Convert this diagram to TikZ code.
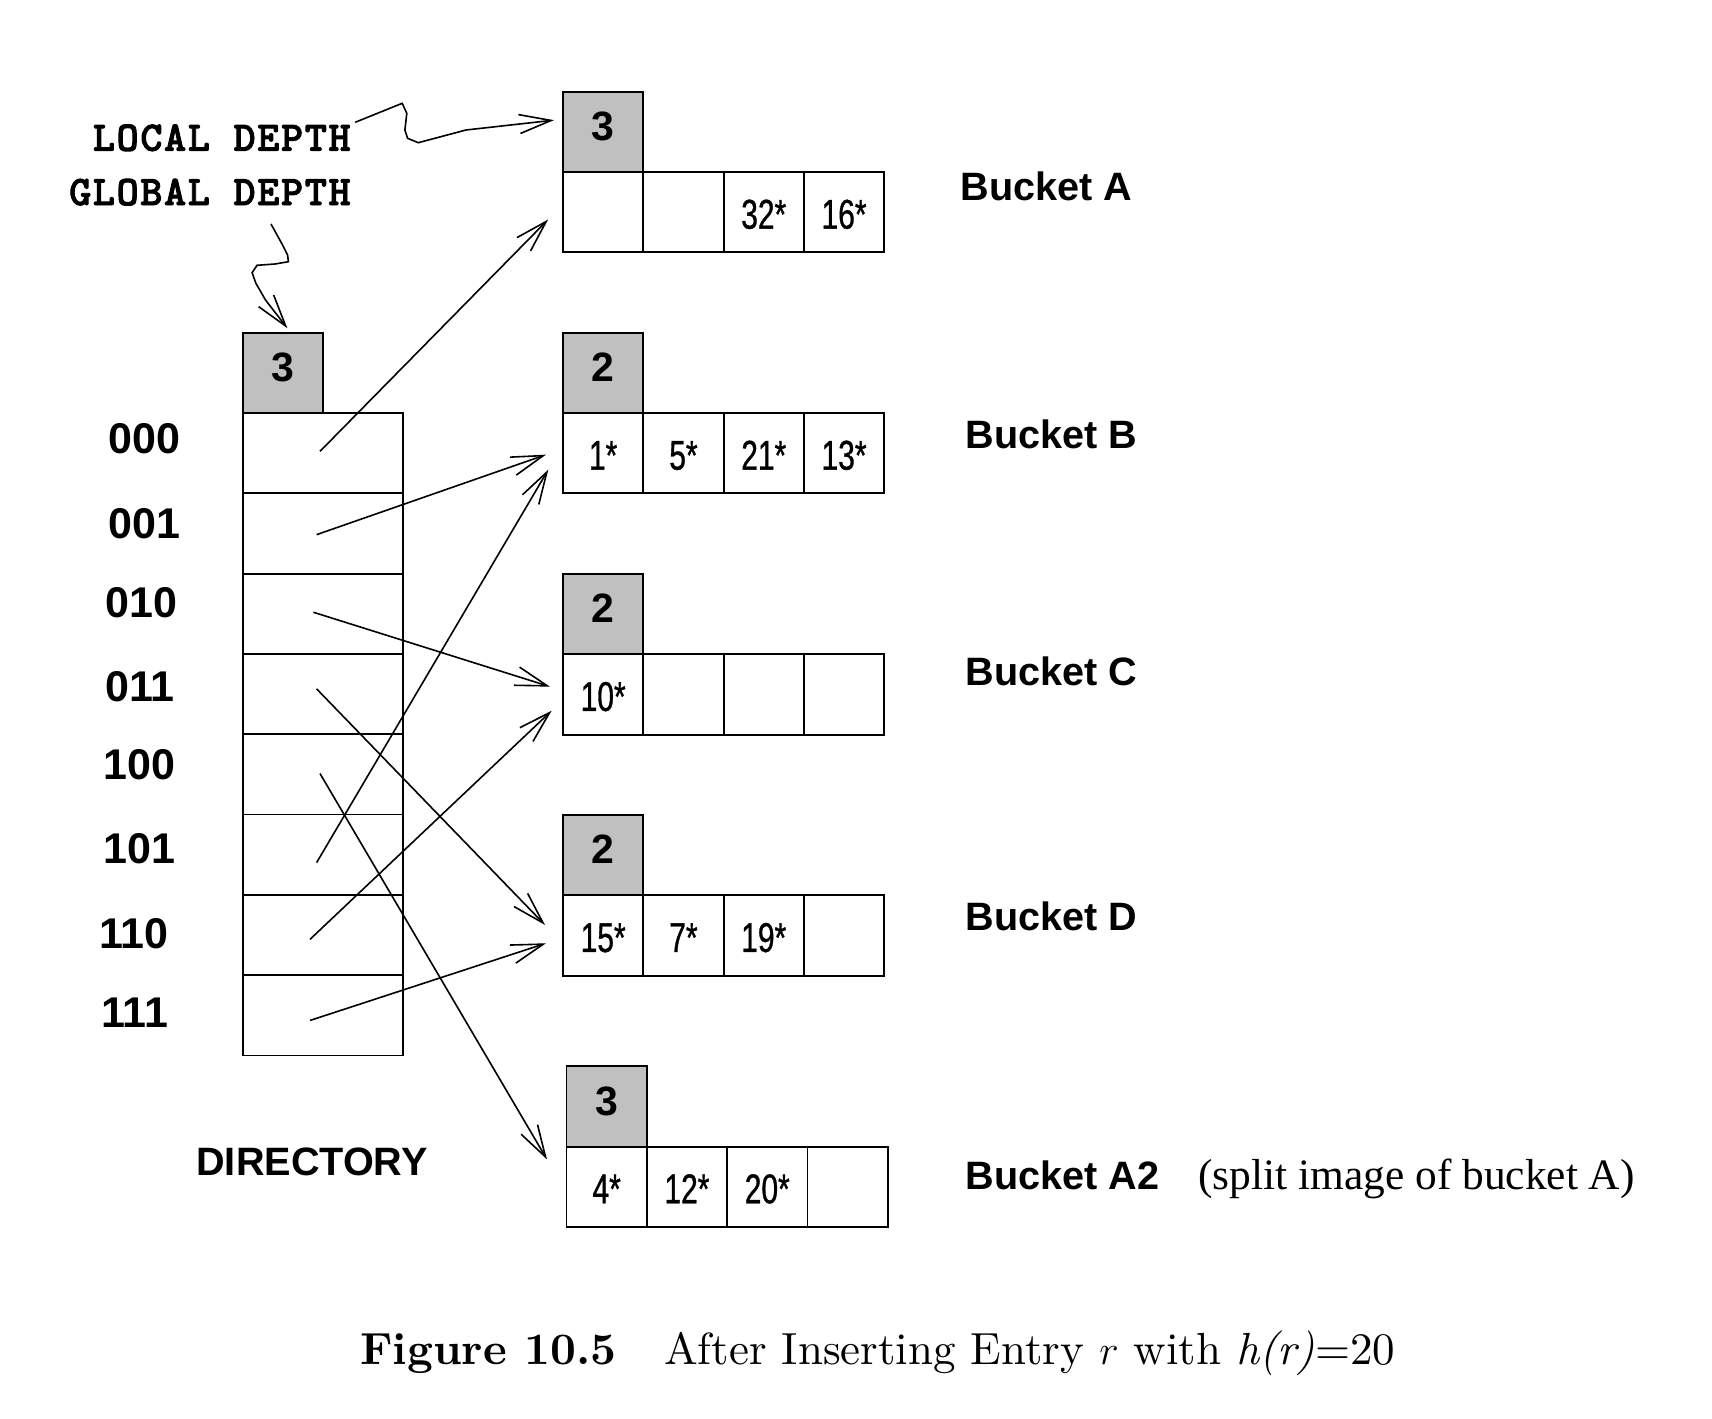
\documentclass[tikz,border=0pt]{standalone}
\usepackage{fontspec}
\usetikzlibrary{arrows.meta}
\newfontfamily\hvfont{Liberation Sans}
\newfontfamily\hvnfont[FakeStretch=0.72, FakeBold=0.8]{Liberation Sans}
\newfontfamily\tmfont{Liberation Serif}
\newfontfamily\crfont{lmmonolt10-bold.otf}[LetterSpace=4.0, FakeBold=2.2]
\newfontfamily\capfont{lmroman10-regular.otf}[BoldFont=lmroman10-bold.otf, ItalicFont=lmroman10-italic.otf]
\definecolor{depthgray}{HTML}{C0C0C0}
\tikzset{
  box/.style={draw, line width=0.9pt, inner sep=0pt, outer sep=0pt, minimum width=40.15pt, minimum height=40.15pt},
  depthbox/.style={box, fill=depthgray, font=\hvfont\bfseries\fontsize{20.5}{24}\selectfont, text height=8.7pt, text depth=0pt},
  cell/.style={box, font=\hvnfont\fontsize{20.8}{24}\selectfont, text height=16.5pt, text depth=0pt},
  dircell/.style={box, minimum width=80.3pt},
  ptr/.style={line width=0.8pt, -{Straight Barb[length=16pt,width=9.5pt]}},
  lbl/.style={font=\hvfont\bfseries\fontsize{19.8}{23}\selectfont, anchor=base west, inner sep=0pt},
  idx/.style={font=\hvfont\bfseries\fontsize{21.5}{25}\selectfont, anchor=base west, inner sep=0pt},
  cour/.style={font=\crfont\fontsize{21}{25}\selectfont, anchor=base east, inner sep=0pt},
}
\newcommand{\mkbucket}[8]{%
  \node[depthbox, anchor=north west] (#1d) at (#2,#3) {#4};
  \node[cell, anchor=north west] (#11) at (#1d.south west) {#5};
  \node[cell, anchor=west] (#12) at (#11.east) {#6};
  \node[cell, anchor=west] (#13) at (#12.east) {#7};
  \node[cell, anchor=west] (#14) at (#13.east) {#8};
}
\begin{document}
\begin{tikzpicture}[x=0.5pt, y=-0.5pt]
\useasboundingbox (0,0) rectangle (1712,1418);

% labels for depth
\node[cour] (ld) at (351,150.7) {LOCAL DEPTH};
\node[cour] (gdl) at (351,205) {GLOBAL DEPTH};

% directory
\node[depthbox, anchor=north west] (gd) at (242.7,332.7) {3};
\node[dircell, anchor=north west] (r0) at (gd.south west) {};
\node[dircell, anchor=north west] (r1) at (r0.south west) {};
\node[dircell, anchor=north west] (r2) at (r1.south west) {};
\node[dircell, anchor=north west] (r3) at (r2.south west) {};
\node[dircell, anchor=north west] (r4) at (r3.south west) {};
\node[dircell, anchor=north west] (r5) at (r4.south west) {};
\node[dircell, anchor=north west] (r6) at (r5.south west) {};
\node[dircell, anchor=north west] (r7) at (r6.south west) {};

\node[idx] (i0) at (108,453) {000};
\node[idx] (i1) at (108,538) {001};
\node[idx] (i2) at (105,617) {010};
\node[idx] (i3) at (105,701) {011};
\node[idx] (i4) at (103,779) {100};
\node[idx] (i5) at (103,863) {101};
\node[idx] (i6) at (99,948) {110};
\node[idx] (i7) at (101,1027) {111};

\node[lbl] (dirl) at (196,1175) {DIRECTORY};

% buckets
\mkbucket{a}{563}{91.7}{3}{}{}{32*}{16*}
\mkbucket{b}{563}{332.7}{2}{1*}{5*}{21*}{13*}
\mkbucket{c}{563}{574}{2}{10*}{}{}{}
\mkbucket{d}{563}{815}{2}{15*}{7*}{19*}{}
\mkbucket{e}{566.5}{1066.3}{3}{4*}{12*}{20*}{}

\node[lbl] (la) at (960,200) {Bucket A};
\node[lbl] (lb) at (965,448) {Bucket B};
\node[lbl] (lc) at (965,685) {Bucket C};
\node[lbl] (ldd) at (965,930) {Bucket D};
\node[lbl] (le) at (965,1189) {Bucket A2};
\node[anchor=base west, inner sep=0pt, font=\tmfont\fontsize{21.7}{26}\selectfont] (split) at (1198,1189) {(split image of bucket A)};

% pointers
\draw[ptr] ([shift={(-1.5pt,0.9pt)}]r0.center) -- ([shift={(-7.4pt,-3.65pt)}]a1.west);
\draw[ptr] ([shift={(-3.2pt,-0.6pt)}]r1.center) -- ([shift={(-8.5pt,-0.75pt)}]b1.west);
\draw[ptr] ([shift={(-4.8pt,0.75pt)}]r2.center) -- ([shift={(-6.5pt,3.9pt)}]c1.west);
\draw[ptr] ([shift={(-3.2pt,2.6pt)}]r3.center) -- ([shift={(-9pt,5.25pt)}]d1.west);
\draw[ptr] ([shift={(-1.5pt,0.4pt)}]r4.center) -- ([shift={(-9.75pt,13.65pt)}]e1.west);
\draw[ptr] ([shift={(-3.2pt,-4pt)}]r5.center) -- ([shift={(-7.35pt,-8.25pt)}]b1.west);
\draw[ptr] ([shift={(-6.5pt,-2.2pt)}]r6.center) -- ([shift={(-5.65pt,-8.1pt)}]c1.west);
\draw[ptr] ([shift={(-6.5pt,-2.6pt)}]r7.center) -- ([shift={(-8.5pt,-3.9pt)}]d1.west);

% squiggly arrows
\draw[ptr] ([shift={(2.1pt,14.2pt)}]ld.base east) -- (402.2,103.3) -- (406.8,113.3) -- (404.9,130) -- (407.6,138.3) -- (418.3,142.7) -- (466,130) -- ([shift={(-4.5pt,5.85pt)}]ad.west);
\draw[ptr] ([shift={(-40pt,-9.5pt)}]gdl.base east) -- (282.6,245) -- (287.6,255) -- (288.4,261.7) -- (275,264) -- (257,265.3) -- (252.1,272.7) -- (255.9,283.3) -- (265.5,300) -- ([shift={(2.3pt,2.2pt)}]gd.north);

% caption
\node[anchor=base west, inner sep=0pt, font=\capfont\fontsize{22.5}{27}\selectfont] (cap) at (360,1364.3) {\textbf{Figure 10.5}\hspace{24pt}After Inserting Entry $r$ with \textit{h(r)}=20};
\end{tikzpicture}
\end{document}
